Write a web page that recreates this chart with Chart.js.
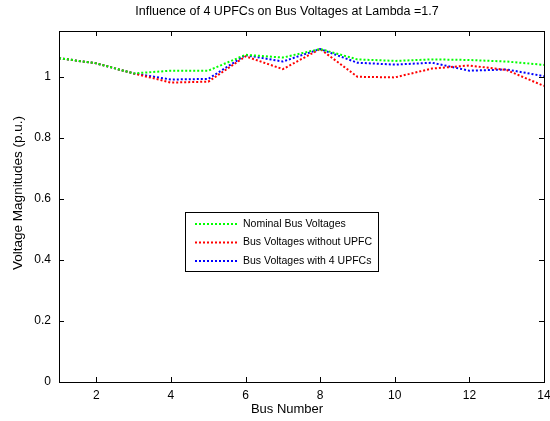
<!DOCTYPE html>
<html>
<head>
<meta charset="utf-8">
<script src="https://cdn.jsdelivr.net/npm/chart.js@4"></script>
<style>
  html, body { margin: 0; padding: 0; background: #fff; }
  #wrap { width: 550px; height: 421px; }
</style>
</head>
<body>
<div id="wrap"><canvas id="busChart" width="550" height="421"></canvas></div>
<script>
// datos
const busNumbers = [1, 2, 3, 4, 5, 6, 7, 8, 9, 10, 11, 12, 13, 14];
const nominalVoltages = [1.061, 1.044, 1.011, 1.020, 1.020, 1.072, 1.063, 1.091, 1.057, 1.052, 1.057, 1.055, 1.050, 1.039];
const noUpfcVoltages  = [1.061, 1.044, 1.011, 0.981, 0.984, 1.067, 1.025, 1.091, 1.000, 0.998, 1.027, 1.037, 1.022, 0.970];
const upfcVoltages    = [1.061, 1.044, 1.011, 0.991, 0.993, 1.071, 1.050, 1.091, 1.046, 1.040, 1.046, 1.020, 1.024, 1.002];
const xTicks = [2, 4, 6, 8, 10, 12, 14];
const yTicks = [0, 0.2, 0.4, 0.6, 0.8, 1];
const seriesLabels = ['Nominal Bus Voltages', 'Bus Voltages without UPFC', 'Bus Voltages with 4 UPFCs'];
const seriesColors = ['#00ff00', '#ff0000', '#0000ff'];
const chartTitle = 'Influence of 4 UPFCs on Bus Voltages at Lambda =1.7';
const xTitle = 'Bus Number';
const yTitle = 'Voltage Magnitudes (p.u.)';

const font = 'Liberation Sans, Arial, sans-serif';

function toPoints(values) {
    return busNumbers.map((b, i) => ({ x: b, y: values[i] }));
}

// caja estilo MATLAB con marcas hacia dentro, titulos y leyenda
const matlabBox = {
    id: 'matlabBox',
    afterDatasetsDraw(chart) {
        const ctx = chart.ctx;
        const a = chart.chartArea;
        const xs = chart.scales.x, ys = chart.scales.y;
        ctx.save();
        ctx.strokeStyle = '#000';
        ctx.lineWidth = 1;
        ctx.beginPath();
        xTicks.forEach(v => {
            const px = Math.round(xs.getPixelForValue(v)) + 0.5;
            ctx.moveTo(px, a.bottom); ctx.lineTo(px, a.bottom - 5);
            ctx.moveTo(px, a.top); ctx.lineTo(px, a.top + 5);
        });
        yTicks.forEach(v => {
            const py = Math.round(ys.getPixelForValue(v)) + 0.5;
            ctx.moveTo(a.left, py); ctx.lineTo(a.left + 5, py);
            ctx.moveTo(a.right, py); ctx.lineTo(a.right - 5, py);
        });
        ctx.stroke();
        ctx.strokeRect(Math.round(a.left) + 0.5, Math.round(a.top) + 0.5,
            Math.round(a.right - a.left), Math.round(a.bottom - a.top));

        // titulos
        ctx.fillStyle = '#000';
        ctx.textAlign = 'center';
        ctx.textBaseline = 'middle';
        ctx.font = '12.5px ' + font;
        ctx.fillText(chartTitle, 287, 12);
        ctx.font = '13px ' + font;
        ctx.fillText(xTitle, 287, 409);
        ctx.save();
        ctx.translate(18, 193);
        ctx.rotate(-Math.PI / 2);
        ctx.font = '13.5px ' + font;
        ctx.fillText(yTitle, 0, 0);
        ctx.restore();

        // leyenda
        const lx = 185, ly = 212, lw = 193, lh = 59;
        ctx.textAlign = 'left';
        ctx.fillStyle = '#fff';
        ctx.fillRect(lx, ly, lw, lh);
        ctx.strokeRect(lx + 0.5, ly + 0.5, lw, lh);
        ctx.font = '10.5px ' + font;
        chart.data.datasets.forEach((ds, i) => {
            const yy = ly + 12 + i * 18.5;
            ctx.strokeStyle = ds.borderColor;
            ctx.lineWidth = 2;
            ctx.setLineDash([2, 2]);
            ctx.beginPath();
            ctx.moveTo(lx + 10, yy); ctx.lineTo(lx + 52, yy);
            ctx.stroke();
            ctx.setLineDash([]);
            ctx.fillStyle = '#000';
            ctx.fillText(ds.label, lx + 58, yy);
        });
        ctx.restore();
    }
};

const ctx = document.getElementById('busChart').getContext('2d');
const busChart = new Chart(ctx, {
    type: 'line',
    data: {
        datasets: seriesLabels.map((label, i) => ({
            label: label,
            data: toPoints([nominalVoltages, noUpfcVoltages, upfcVoltages][i]),
            borderColor: seriesColors[i],
            borderWidth: 2,
            borderDash: [2, 2],
            pointRadius: 0,
            fill: false,
            tension: 0
        }))
    },
    options: {
        responsive: false,
        animation: false,
        layout: { padding: { left: 0, right: 6, top: 31, bottom: 0 } },
        plugins: {
            legend: { display: false },
            tooltip: { enabled: false },
            title: { display: false }
        },
        scales: {
            x: {
                type: 'linear',
                min: 1,
                max: 14,
                grid: { display: false, drawTicks: false },
                border: { display: false },
                afterBuildTicks: s => { s.ticks = xTicks.map(v => ({ value: v })); },
                afterFit: s => { s.height = 39; s.paddingRight = 0; s.paddingLeft = 0; },
                ticks: {
                    color: '#000',
                    font: { family: font, size: 12 },
                    padding: 6,
                    maxRotation: 0,
                    callback: v => String(v)
                }
            },
            y: {
                type: 'linear',
                min: 0,
                max: 1.15,
                grid: { display: false, drawTicks: false },
                border: { display: false },
                afterBuildTicks: s => { s.ticks = yTicks.map(v => ({ value: v })); },
                afterFit: s => { s.width = 59; s.paddingTop = 0; s.paddingBottom = 0; },
                ticks: {
                    color: '#000',
                    font: { family: font, size: 12 },
                    padding: 8,
                    callback: v => String(Math.round(v * 10) / 10)
                }
            }
        }
    },
    plugins: [matlabBox]
});
</script>
</body>
</html>
